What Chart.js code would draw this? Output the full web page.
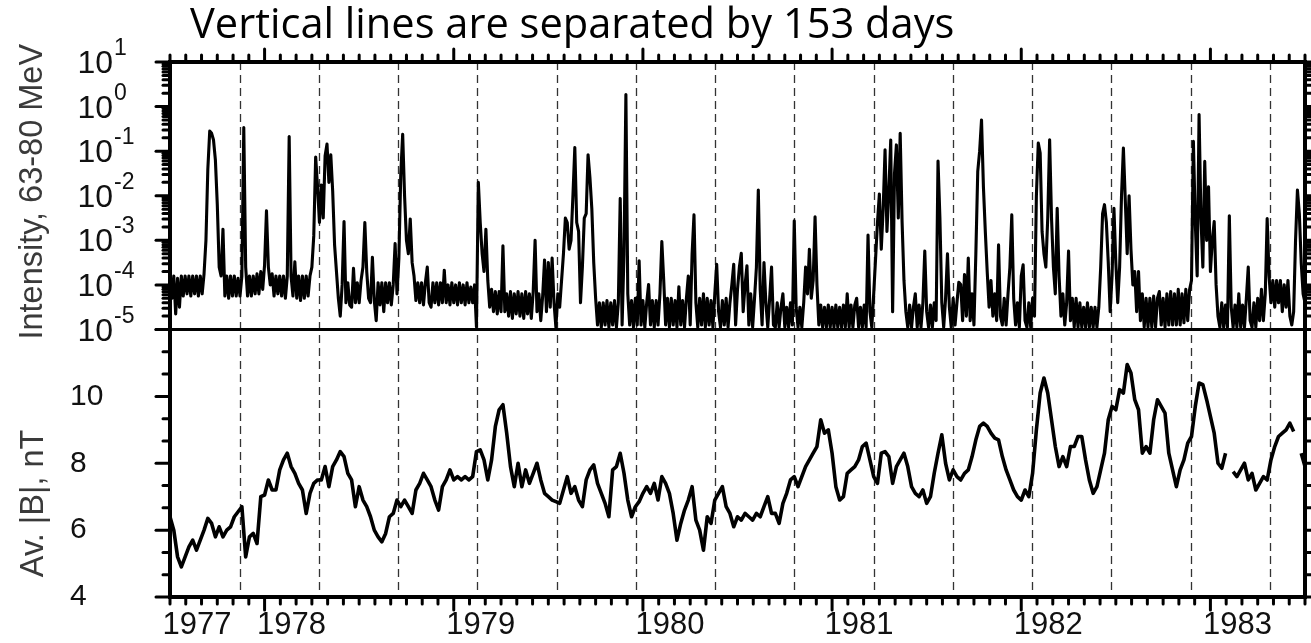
<!DOCTYPE html>
<html>
<head>
<meta charset="utf-8">
<title>SEP intensity and |B|</title>
<script src="https://cdn.jsdelivr.net/npm/chart.js@4.4.1/dist/chart.umd.min.js"></script>
<style>
  html, body { margin: 0; padding: 0; background: #fff; }
  canvas { display: block; }
</style>
</head>
<body>
<canvas id="sep" width="1311" height="643"></canvas>
<script>
// time axis (decimal years)
const xMin = 1977.5, xMax = 1983.5;
const yearTicks = [1977.5, 1978, 1979, 1980, 1981, 1982, 1983];
const yearLabels = ['1977', '1978', '1979', '1980', '1981', '1982', '1983'];

// 153-day markers
const dashYears = [1977.868, 1978.287, 1978.706, 1979.125, 1979.544, 1979.963, 1980.382,
  1980.801, 1981.220, 1981.638, 1982.057, 1982.476, 1982.895, 1983.314];

// 63-80 MeV intensity, log10 values, one sample per 0.01 yr from 1977.50
const intensityStart = 1977.5, intensityStep = 0.01;
const intensityExp = [
  -3.85,-4.3,-3.8,-4.65,-3.85,-4.5,-3.8,-4.25,-3.8,-4.2,-3.8,-4.25,-3.8,-4.2,-3.8,-4.25,-3.8,-4.2,-3.75,-3.0,
  -1.4,-0.55,-0.6,-0.75,-1.2,-2.2,-3.6,-3.8,-2.75,-4.25,-3.8,-4.3,-3.8,-4.25,-3.8,-4.25,-3.85,-4.25,-3.8,-0.47,
  -3.6,-4.25,-3.8,-4.25,-3.8,-4.2,-3.75,-4.2,-3.7,-4.1,-3.55,-2.34,-3.6,-4.0,-3.75,-4.25,-3.8,-4.2,-3.8,-4.25,
  -3.8,-4.3,-3.8,-0.67,-3.8,-4.25,-3.48,-4.3,-3.8,-4.35,-3.8,-4.3,-3.8,-4.25,-3.8,-3.6,-2.9,-1.13,-1.8,-2.6,
  -1.76,-2.5,-1.1,-0.84,-1.7,-1.08,-1.9,-3.1,-3.7,-4.3,-4.7,-4.0,-2.58,-4.4,-3.95,-4.45,-4.5,-3.63,-4.4,-3.95,
  -4.4,-3.9,-3.6,-2.6,-3.7,-4.3,-4.4,-3.38,-4.35,-4.8,-3.95,-4.45,-3.95,-4.6,-3.95,-4.4,-3.95,-4.45,-4.0,-3.07,
  -4.2,-3.4,-1.5,-0.62,-2.0,-3.0,-3.3,-2.52,-3.5,-3.8,-4.35,-3.95,-4.4,-3.95,-4.45,-3.95,-3.6,-4.4,-4.5,-3.95,
  -4.4,-3.95,-4.45,-3.95,-4.4,-3.67,-4.4,-4.0,-4.45,-3.95,-4.4,-4.0,-4.45,-3.95,-4.4,-4.0,-4.45,-3.95,-4.4,-4.05,
  -4.4,-4.0,-4.94,-1.70,-2.6,-3.3,-3.7,-2.75,-3.9,-4.5,-4.1,-4.6,-4.15,-4.65,-4.15,-4.6,-3.12,-4.6,-4.2,-4.7,
  -4.15,-4.75,-4.2,-4.65,-4.15,-4.7,-4.2,-4.75,-4.15,-4.65,-4.2,-4.75,-4.15,-3.0,-4.6,-4.2,-4.8,-4.25,-3.44,-4.6,
  -3.5,-4.5,-3.4,-4.4,-4.95,-4.2,-4.5,-3.9,-3.3,-2.5,-2.6,-3.2,-3.0,-2.0,-0.92,-2.6,-2.8,-4.4,-3.6,-2.5,
  -2.4,-1.08,-1.6,-2.3,-3.5,-4.3,-4.9,-4.4,-4.95,-4.4,-4.9,-4.35,-4.95,-4.4,-4.9,-4.35,-4.95,-4.4,-2.06,-4.9,
  -3.3,0.27,-4.2,-4.9,-4.35,-4.95,-4.3,-4.9,-3.46,-4.9,-4.35,-4.95,-4.4,-3.99,-4.9,-4.35,-4.95,-4.35,-4.9,-4.2,
  -3.03,-3.9,-4.9,-4.3,-4.95,-4.3,-4.9,-4.35,-4.95,-4.04,-4.9,-4.35,-4.95,-4.3,-3.8,-4.9,-3.3,-2.43,-4.4,-4.95,
  -4.3,-4.9,-4.2,-4.95,-4.3,-4.9,-4.35,-4.95,-4.2,-3.54,-4.6,-4.95,-4.35,-4.9,-4.3,-4.95,-4.4,-4.0,-3.54,-4.9,
  -4.1,-3.6,-3.29,-4.6,-4.0,-3.57,-4.9,-4.2,-4.95,-4.3,-3.6,-1.87,-4.1,-4.9,-3.5,-4.4,-4.95,-4.3,-3.6,-4.9,
  -4.95,-4.4,-4.95,-4.5,-4.2,-4.95,-4.5,-4.95,-4.4,-4.9,-2.56,-4.5,-4.95,-4.5,-4.95,-4.4,-3.6,-4.2,-3.2,-4.3,
  -3.9,-2.47,-4.0,-4.9,-4.45,-4.95,-4.5,-4.95,-4.45,-4.95,-4.5,-4.95,-4.45,-4.95,-4.5,-4.95,-4.45,-4.95,-4.2,-4.95,
  -4.45,-4.95,-4.45,-4.3,-4.95,-4.5,-4.95,-4.45,-4.95,-2.88,-4.6,-4.95,-4.2,-3.4,-2.6,-1.96,-3.2,-2.3,-0.97,-2.8,
  -1.9,-0.75,-4.6,-1.5,-0.86,-2.5,-0.6,-2.58,-3.9,-4.6,-4.95,-4.45,-4.95,-4.5,-4.2,-4.95,-4.45,-4.95,-4.4,-3.24,
  -4.6,-4.95,-4.45,-4.95,-4.4,-4.8,-1.22,-2.5,-4.4,-4.95,-4.3,-3.3,-4.5,-4.95,-4.3,-4.9,-4.4,-3.94,-3.99,-4.8,
  -3.77,-4.7,-3.4,-4.8,-4.2,-4.9,-3.3,-1.46,-1.0,-0.30,-1.8,-2.8,-3.7,-4.5,-3.9,-4.7,-4.2,-4.8,-3.1,-4.7,
  -4.9,-4.3,-4.9,-4.2,-3.6,-2.43,-4.3,-4.9,-4.4,-4.95,-3.8,-3.55,-4.8,-4.95,-4.4,-4.95,-4.3,-4.7,-2.0,-0.82,
  -1.04,-2.8,-3.3,-3.6,-2.5,-0.745,-2.5,-3.6,-4.2,-2.28,-3.8,-4.7,-4.2,-4.9,-4.4,-3.24,-4.8,-4.3,-4.95,-4.3,
  -4.95,-4.4,-4.95,-4.5,-4.95,-4.4,-4.95,-4.5,-4.95,-4.5,-4.95,-4.5,-3.6,-2.4,-2.2,-2.6,-3.5,-4.6,-3.8,-2.28,
  -3.5,-4.4,-3.6,-2.0,-0.93,-2.1,-3.3,-2.0,-3.2,-4.0,-3.7,-4.6,-3.7,-4.8,-4.2,-4.95,-4.3,-4.95,-4.3,-4.95,
  -4.25,-4.95,-4.3,-4.15,-4.9,-4.3,-4.95,-4.2,-4.9,-4.15,-4.9,-4.2,-4.9,-4.1,-4.9,-4.2,-4.85,-4.1,-4.8,-4.1,
  -3.9,-0.78,-2.6,-3.8,-0.18,-2.5,-3.6,-1.23,-3.0,-1.8,-3.7,-3.0,-2.58,-4.0,-4.7,-4.95,-4.4,-4.95,-4.45,-4.95,
  -2.45,-4.5,-4.95,-4.45,-4.95,-4.2,-4.95,-4.45,-4.95,-4.3,-3.6,-4.8,-4.95,-4.4,-4.95,-4.3,-4.8,-4.1,-4.8,-4.2,
  -2.51,-3.8,-4.4,-3.9,-4.5,-3.9,-4.4,-3.9,-4.6,-4.0,-4.5,-3.9,-4.7,-4.9,-4.6,-3.0,-1.87,-2.4,-3.5,-4.2,-4.4
];

// averaged |B| in nT, one sample per 0.02 yr from 1977.50 (null = data gap)
const fieldStart = 1977.5, fieldStep = 0.02;
const fieldB = [
  6.4,6.0,5.2,4.9,5.2,5.5,5.7,5.4,5.7,6.0,6.35,6.2,5.8,6.1,5.8,6.0,6.1,6.4,6.55,6.7,
  5.2,5.8,5.9,5.6,7.0,7.05,7.5,7.2,7.2,7.8,8.1,8.3,7.9,7.7,7.4,7.2,6.5,7.1,7.4,7.5,
  7.5,7.9,7.3,7.9,8.1,8.35,8.2,7.7,7.5,6.7,7.3,6.9,6.7,6.4,6.0,5.8,5.65,5.9,6.4,6.5,
  6.9,6.7,6.9,6.7,6.5,7.2,7.4,7.7,7.5,7.3,6.9,6.6,7.3,7.5,7.8,7.5,7.6,7.5,7.6,7.5,
  7.6,8.35,8.4,8.1,7.5,8.1,9.1,9.6,9.75,8.9,7.9,7.3,8.0,7.3,7.8,7.4,7.7,8.0,7.5,7.1,
  7.0,6.9,6.85,6.8,7.2,7.6,7.1,7.3,6.9,6.7,7.5,7.8,7.95,7.4,7.1,6.8,6.4,7.8,7.9,8.3,
  7.7,6.9,6.4,6.7,6.85,7.1,7.3,7.1,7.4,6.9,7.6,7.4,7.1,6.5,5.7,6.2,6.6,6.9,7.3,6.3,
  6.0,5.4,6.4,6.2,6.9,7.1,7.3,6.7,6.5,6.1,6.4,6.3,6.5,6.4,6.3,6.5,6.4,6.7,7.0,6.5,
  6.5,6.2,6.8,7.1,7.5,7.6,7.3,7.6,7.9,8.1,8.3,8.5,9.3,8.9,9.0,8.3,7.3,6.9,7.0,7.7,
  7.8,7.9,8.1,8.5,8.6,8.1,7.6,7.4,8.3,8.35,8.2,7.4,7.9,8.1,8.3,7.9,7.3,7.1,7.0,7.2,
  6.8,7.0,7.7,8.3,8.85,8.0,7.5,7.8,7.6,7.5,7.7,7.8,8.2,8.7,9.1,9.2,9.1,8.9,8.75,8.7,
  8.2,7.8,7.5,7.2,7.0,6.9,7.2,7.0,7.7,9.0,10.1,10.55,10.1,9.3,8.5,7.9,8.2,7.9,8.5,8.5,
  8.8,8.8,8.1,7.5,7.1,7.3,7.8,8.3,9.3,9.7,9.6,10.2,10.1,10.95,10.7,9.9,9.6,8.3,8.5,8.3,
  9.3,9.9,9.7,9.5,8.3,7.8,7.3,7.8,8.1,8.6,8.8,9.7,10.4,10.35,9.9,9.4,8.9,8.0,7.85,8.3,
  null,7.75,7.6,7.8,8.0,7.5,7.7,7.2,7.4,7.6,7.5,8.1,8.5,8.8,8.9,9.0,9.2,8.95,null,8.3,7.9
];

const decadeTicks = [-5, -4, -3, -2, -1, 0, 1];
const fieldTicks = [4, 6, 8, 10];

const titleText = 'Vertical lines are separated by 153 days';
const intensityTitle = 'Intensity, 63-80 MeV';
const fieldTitle = 'Av. |B|, nT';

const intensityPoints = intensityExp.map((e, i) => ({ x: intensityStart + i * intensityStep, y: Math.pow(10, e) }));
const fieldPoints = fieldB.map((b, i) => ({ x: fieldStart + i * fieldStep, y: b }));

Chart.defaults.font.family = '"Liberation Sans", Arial, sans-serif';

// frame, tick marks, dashed markers and the hand-set labels
const frame = {
  id: 'frame',
  beforeDatasetsDraw(chart) {
    const { ctx, chartArea: a, scales: { x } } = chart;
    ctx.save();
    ctx.strokeStyle = '#333';
    ctx.lineWidth = 1.3;
    ctx.setLineDash([8, 5]);
    dashYears.forEach(t => {
      const px = Math.round(x.getPixelForValue(t)) + 0.5;
      ctx.beginPath();
      ctx.moveTo(px, a.top);
      ctx.lineTo(px, a.bottom);
      ctx.stroke();
    });
    ctx.restore();
  },
  afterDatasetsDraw(chart) {
    const { ctx, chartArea: a, scales: { x, yInt, yB } } = chart;
    const seg = (x1, y1, x2, y2) => {
      ctx.beginPath();
      ctx.moveTo(x1, y1);
      ctx.lineTo(x2, y2);
      ctx.stroke();
    };
    ctx.save();
    ctx.strokeStyle = '#000';
    ctx.lineWidth = 3;
    ctx.lineCap = 'round';

    // months, long mark at each new year
    for (let yr = 1977; yr <= 1983; yr++) {
      for (let m = 0; m < 12; m++) {
        const t = yr + m / 12;
        if (t < xMin || t > xMax) continue;
        const px = x.getPixelForValue(t);
        const len = m === 0 ? 13 : 7;
        seg(px, a.bottom, px, a.bottom + len);
        seg(px, a.top, px, a.top - len);
      }
    }
    // log axis: decades plus 2..9
    decadeTicks.forEach(d => {
      for (let k = 1; k <= 9; k++) {
        const v = k * Math.pow(10, d);
        if (v > 10) break;
        const py = yInt.getPixelForValue(v);
        const len = k === 1 ? 14 : 7;
        seg(a.left - len, py, a.left, py);
        seg(a.right, py, a.right + len, py);
      }
    });
    // field axis: every 2 nT, split in three
    for (let i = 0; i <= 12; i++) {
      const py = yB.getPixelForValue(4 + i * 2 / 3);
      const len = i % 3 === 0 ? 14 : 7;
      seg(a.left - len, py, a.left, py);
      seg(a.right, py, a.right + len, py);
    }

    ctx.lineCap = 'square';
    ctx.lineWidth = 4;
    ctx.strokeRect(a.left, a.top, a.right - a.left, a.bottom - a.top);
    ctx.lineWidth = 3;
    seg(a.left, yInt.bottom, a.right, yInt.bottom);
    ctx.restore();
  },
  afterDraw(chart) {
    const { ctx, scales: { yInt, yB } } = chart;
    ctx.save();
    ctx.fillStyle = '#111';
    // powers of ten
    decadeTicks.forEach(d => {
      const py = yInt.getPixelForValue(Math.pow(10, d));
      ctx.font = '32px "Liberation Sans", Arial, sans-serif';
      ctx.textAlign = 'right';
      ctx.textBaseline = 'alphabetic';
      ctx.fillText('10', 113, py + 11);
      ctx.font = '23px "Liberation Sans", Arial, sans-serif';
      ctx.textAlign = 'left';
      ctx.fillText(String(d), 114, py - 7);
    });

    // axis titles
    ctx.fillStyle = '#3a3a3a';
    ctx.font = '32.5px "Liberation Sans", Arial, sans-serif';
    ctx.textAlign = 'center';
    ctx.textBaseline = 'alphabetic';
    [[intensityTitle, 42, (yInt.top + yInt.bottom) / 2 - 4],
     [fieldTitle, 43, yB.getPixelForValue(6.8)]].forEach(([txt, bx, cy]) => {
      ctx.save();
      ctx.translate(bx, cy);
      ctx.rotate(-Math.PI / 2);
      ctx.fillText(txt, 0, 0);
      ctx.restore();
    });

    // heading
    ctx.fillStyle = '#000';
    ctx.font = '34px "Open Sans", sans-serif';
    const size = 34 * 765 / ctx.measureText(titleText).width;
    ctx.font = size.toFixed(1) + 'px "Open Sans", sans-serif';
    ctx.textAlign = 'left';
    ctx.fillText(titleText, 190, 38);
    ctx.restore();
  }
};

new Chart(document.getElementById('sep'), {
  type: 'line',
  data: {
    datasets: [
      {
        label: 'Intensity',
        data: intensityPoints,
        yAxisID: 'yInt',
        borderColor: '#000',
        borderWidth: 3.1,
        borderJoinStyle: 'round',
        pointRadius: 0,
        tension: 0
      },
      {
        label: 'Av. |B|',
        data: fieldPoints,
        yAxisID: 'yB',
        borderColor: '#000',
        borderWidth: 3.6,
        borderJoinStyle: 'round',
        pointRadius: 0,
        tension: 0,
        spanGaps: false
      }
    ]
  },
  options: {
    responsive: false,
    animation: false,
    events: [],
    layout: { padding: { left: 70, right: 6, top: 62, bottom: 0 } },
    plugins: {
      legend: { display: false },
      tooltip: { enabled: false },
      title: { display: false }
    },
    scales: {
      x: {
        type: 'linear',
        min: xMin,
        max: xMax,
        grid: { display: false, drawTicks: false },
        border: { display: false },
        afterBuildTicks: s => { s.ticks = yearTicks.map(v => ({ value: v })); },
        afterFit: s => { s.height = 46; },
        ticks: {
          callback: (v, i) => yearLabels[i],
          labelOffset: 27,
          padding: 10,
          autoSkip: false,
          maxRotation: 0,
          color: '#111',
          font: { size: 31 }
        }
      },
      yB: {
        type: 'linear',
        position: 'left',
        stack: 'panels',
        stackWeight: 1,
        min: 4,
        max: 12,
        grid: { display: false, drawTicks: false },
        border: { display: false },
        afterBuildTicks: s => { s.ticks = fieldTicks.map(v => ({ value: v })); },
        afterFit: s => { s.width = 100; },
        ticks: { crossAlign: 'far', color: '#111', font: { size: 30 } }
      },
      yInt: {
        type: 'logarithmic',
        position: 'left',
        stack: 'panels',
        stackWeight: 1,
        min: 1e-5,
        max: 10,
        grid: { display: false, drawTicks: false },
        border: { display: false },
        afterFit: s => { s.width = 100; },
        ticks: { display: false }
      }
    }
  },
  plugins: [frame]
});
</script>
</body>
</html>
